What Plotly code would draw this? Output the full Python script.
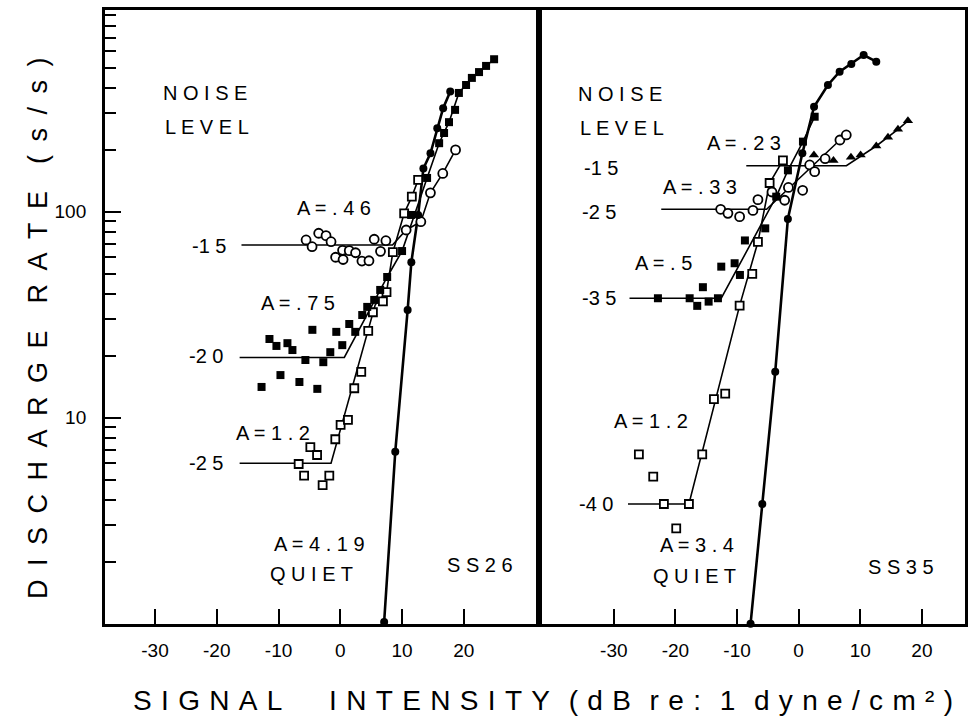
import plotly.graph_objects as go

W, H = 968, 721

# ---------------- data: left panel (SS26) ----------------
quiet_l_x = [7.1, 8.9, 10.9, 11.5, 12.6, 13.45, 14.6, 15.7, 16.65, 17.8]
quiet_l_y = [1.02, 6.84, 33.3, 56.8, 96.4, 162, 192, 254, 318, 383]

fsq_l_x = [-12.75, -11.47, -10.34, -9.69, -8.56, -7.75, -6.62, -5.65, -4.52, -3.72,
           -2.75, -1.62, -0.65, 0.32, 1.45, 2.42, 3.55, 4.36, 5.49, 6.46,
           7.59, 10.0, 11.47, 14.05, 16.0, 16.8, 17.6, 18.58, 19.2, 20.36,
           21.3, 22.46, 23.6, 24.9]
fsq_l_y = [14.1, 24.1, 22.3, 16.1, 23.0, 21.3, 14.9, 19.05, 26.7, 13.8,
           18.6, 20.8, 26.1, 22.5, 28.5, 26.1, 31.5, 34.5, 37.3, 41.7,
           48.2, 64.4, 96.4, 145.8, 215, 241, 272, 312, 377, 412,
           446, 476, 510, 549.5]
fit_fsq_l_x = [-16.3, 0.65, 7.59, 10.0, 14.05, 16.0, 17.6, 19.2, 21.3, 23.6, 24.9]
fit_fsq_l_y = [19.6, 19.6, 48.2, 64.4, 145.8, 215, 272, 377, 446, 510, 549.5]

ocir_l_x = [-5.54, -4.57, -3.5, -2.31, -1.5, -0.76, 0.37, 0.45, 1.45, 2.47,
            3.5, 4.64, 5.49, 6.51, 7.38, 10.66, 13.04, 14.59, 16.59, 18.66]
ocir_l_y = [72.9, 67.6, 78.6, 76.5, 71.5, 60.1, 64.9, 58.6, 64.7, 63.2,
            57.6, 57.8, 73.5, 64.2, 72.3, 81.5, 89.4, 123.4, 153.3, 199.4]
fit_ocir_l_x = [-16.0, 8.45, 10.66, 13.04, 14.59, 16.59, 18.66]
fit_ocir_l_y = [68.9, 68.9, 81.5, 89.4, 123.4, 153.3, 199.4]

osq_l_x = [-6.74, -5.86, -4.85, -3.76, -2.86, -1.78, -0.81, 0.05, 1.24, 2.26,
           3.39, 4.52, 5.28, 6.9, 7.48, 8.51, 10.34, 11.58, 12.6]
osq_l_y = [5.96, 5.23, 7.2, 6.59, 4.71, 5.23, 7.86, 9.22, 9.75, 13.9,
           16.7, 26.4, 32.5, 36.7, 40.7, 63.6, 98.2, 118.3, 142.6]
fit_osq_l_x = [-16.3, -1.5, 5.65, 7.48, 8.51, 10.34, 11.58, 12.6]
fit_osq_l_y = [6.01, 6.01, 35.3, 40.7, 63.6, 98.2, 118.3, 142.6]

# ---------------- data: right panel (SS35) ----------------
quiet_r_x = [-7.8, -5.9, -3.8, -1.75, 0.6, 2.5, 4.75, 6.65, 8.55, 10.55, 12.6]
quiet_r_y = [1.0, 3.81, 16.7, 92.2, 192, 323, 412, 478, 521, 576, 535]

fsq_r_x = [-22.84, -17.69, -16.46, -15.54, -14.61, -13.1, -12.56, -10.39, -9.53,
           -8.72, -5.42, -3.64, -1.74, 0.7, 2.6]
fsq_r_y = [38.0, 38.0, 34.9, 43.0, 36.6, 38.0, 54.1, 56.2, 49.3,
           72.5, 83.0, 118.3, 158.7, 218.8, 289]
fit_fsq_r_x = [-27.45, -12.56, -3.64, -1.74, 0.7, 2.6]
fit_fsq_r_y = [38, 38, 118.3, 158.7, 218.8, 289]

osq_r_x = [-25.93, -23.6, -21.87, -19.87, -17.81, -15.65, -13.75, -11.92, -9.58,
           -7.53, -6.61, -4.71, -2.55]
osq_r_y = [6.64, 5.17, 3.81, 2.90, 3.81, 6.64, 12.3, 13.1, 35.0,
           49.9, 71.3, 137.8, 177.5]
fit_osq_r_x = [-27.7, -17.81, -9.58, -6.61, -4.71, -2.55]
fit_osq_r_y = [3.81, 3.81, 35.0, 71.3, 137.8, 177.5]

ocir_r_x = [-12.66, -11.48, -9.58, -7.42, -6.61, -4.33, -2.27, -1.66, 0.65, 1.79,
            2.6, 4.3, 6.7, 7.73]
ocir_r_y = [102.7, 98.2, 94.6, 101.4, 114.4, 124.6, 113.6, 131.1, 127, 168.6,
            156.4, 180.8, 222.8, 235.7]
fit_ocir_r_x = [-22.3, -5.2, 6.7, 7.73]
fit_ocir_r_y = [102.7, 102.7, 222.8, 235.7]

tri_r_x = [2.48, 5.65, 8.49, 10.06, 12.6, 14.5, 16.12, 17.74]
tri_r_y = [188.4, 177.2, 183.6, 188.4, 208.4, 229.7, 251, 276]
fit_tri_r_x = [-8.5, 7.75, 12.6, 14.5, 16.12, 17.74]
fit_tri_r_y = [167.2, 167.2, 208.4, 229.7, 251, 276]

x_tick_vals = [-30, -20, -10, 0, 10, 20]
x_tick_text = ["-30", "-20", "-10", "0", "10", "20"]
y_tick_vals = [10, 100]
y_tick_text = ["10", "100"]
y_minor_vals = [m * d for d in (1, 10, 100) for m in range(2, 10)]

FONT = "Liberation Sans, Arial, sans-serif"
BLACK = "black"

fig = go.Figure()


def fit_line(x, y, xa, ya, width=1.6):
    fig.add_trace(go.Scatter(x=x, y=y, mode="lines", xaxis=xa, yaxis=ya,
                             line=dict(color=BLACK, width=width),
                             hoverinfo="skip", showlegend=False))


def points(x, y, xa, ya, symbol, size, filled):
    marker = dict(symbol=symbol, size=size,
                  color=BLACK if filled else "white",
                  line=dict(color=BLACK, width=0 if filled else 1.8))
    fig.add_trace(go.Scatter(x=x, y=y, mode="markers", xaxis=xa, yaxis=ya,
                             marker=marker, showlegend=False, cliponaxis=False))


# left panel
fit_line(fit_fsq_l_x, fit_fsq_l_y, "x", "y")
fit_line(fit_ocir_l_x, fit_ocir_l_y, "x", "y")
fit_line(fit_osq_l_x, fit_osq_l_y, "x", "y")
fit_line(quiet_l_x, quiet_l_y, "x", "y", width=2.6)
points(ocir_l_x, ocir_l_y, "x", "y", "circle", 9, False)
points(osq_l_x, osq_l_y, "x", "y", "square", 8, False)
points(fsq_l_x, fsq_l_y, "x", "y", "square", 8, True)
points(quiet_l_x, quiet_l_y, "x", "y", "circle", 8, True)

# right panel
fit_line(fit_fsq_r_x, fit_fsq_r_y, "x2", "y2")
fit_line(fit_osq_r_x, fit_osq_r_y, "x2", "y2")
fit_line(fit_ocir_r_x, fit_ocir_r_y, "x2", "y2")
fit_line(fit_tri_r_x, fit_tri_r_y, "x2", "y2")
fit_line(quiet_r_x, quiet_r_y, "x2", "y2", width=2.6)
points(ocir_r_x, ocir_r_y, "x2", "y2", "circle", 9, False)
points(osq_r_x, osq_r_y, "x2", "y2", "square", 8, False)
points(fsq_r_x, fsq_r_y, "x2", "y2", "square", 8, True)
points(tri_r_x, tri_r_y, "x2", "y2", "triangle-up", 9, True)
points(quiet_r_x, quiet_r_y, "x2", "y2", "circle", 8, True)

y_dom = [(H - 623.7) / H, (H - 10) / H]
common_x = dict(showline=True, linewidth=2.5, linecolor=BLACK, mirror=True,
                ticks="inside", ticklen=15, tickwidth=2, tickcolor=BLACK,
                tickvals=x_tick_vals, ticktext=x_tick_text,
                tickfont=dict(family=FONT, size=19, color=BLACK),
                ticklabelstandoff=8,
                showgrid=False, zeroline=False)

fig.update_layout(
    width=W, height=H,
    margin=dict(l=0, r=0, t=0, b=0),
    paper_bgcolor="white", plot_bgcolor="white",
    showlegend=False,
    xaxis=dict(domain=[105 / W, 540 / W], range=[-38.13, 32.15], anchor="y", **common_x),
    xaxis2=dict(domain=[540 / W, 967 / W], range=[-42.16, 27.0], anchor="y2", **common_x),
    yaxis=dict(type="log", range=[0, 2.979], domain=y_dom, anchor="x",
               showline=True, linewidth=2.5, linecolor=BLACK, mirror=True,
               ticks="inside", ticklen=16, tickwidth=2, tickcolor=BLACK,
               tickvals=y_tick_vals, ticktext=y_tick_text,
               tickfont=dict(family=FONT, size=19, color=BLACK),
               ticklabelstandoff=12,
               minor=dict(ticks="inside", ticklen=11, tickwidth=2, tickcolor=BLACK,
                          tickvals=y_minor_vals, showgrid=False),
               showgrid=False, zeroline=False),
    yaxis2=dict(type="log", range=[0, 2.979], domain=y_dom, anchor="x2",
                showline=True, linewidth=2.5, linecolor=BLACK, mirror=True,
                ticks="", showticklabels=False, showgrid=False, zeroline=False),
)


def label(text, px, py, size=19, **kw):
    fig.add_annotation(text=text, x=px / W, y=1 - py / H, xref="paper", yref="paper",
                       showarrow=False, xanchor="center", yanchor="middle",
                       font=dict(family=FONT, size=size, color=BLACK), **kw)


labels = [
    ("N O I S E", 205, 93), ("L E V E L", 207, 127),
    ("A = . 4 6", 335, 208), ("-1 5", 209, 246),
    ("A = . 7 5", 299, 303), ("-2 0", 206, 356),
    ("A = 1 . 2", 274, 433), ("-2 5", 206, 463),
    ("A = 4 . 1 9", 320, 544), ("Q U I E T", 312, 574),
    ("S S 2 6", 481, 565),
    ("N O I S E", 621, 94), ("L E V E L", 623, 128),
    ("A = . 2 3", 746, 143), ("-1 5", 602, 168),
    ("A = . 3 3", 701, 187), ("-2 5", 600, 212),
    ("A = . 5", 665, 263), ("-3 5", 600, 298),
    ("A = 1 . 2", 652, 421), ("-4 0", 597, 504),
    ("A = 3 . 4", 698, 545), ("Q U I E T", 696, 576),
    ("S S 3 5", 903, 567),
]
for t, px, py in labels:
    label(t, px, py, size=20)

en = "\u2002"
third = "\u2004"


def spaced(word, gap):
    return gap.join(list(word))


ytitle = (en * 2).join(spaced(w, en) for w in ["DISCHARGE", "RATE", "(s/s)"])
label(ytitle, 38, 328, size=27, textangle=-90)

xtitle = (spaced("SIGNAL", third) + third * 5 + spaced("INTENSITY", third) + third * 2 +
          spaced("(dB", third) + third * 2 + spaced("re:", third) + third * 2 + "1" +
          third * 2 + spaced("dyne/cm²)", third))
label(xtitle, 544, 700, size=28)

fig.write_html("out.html")
